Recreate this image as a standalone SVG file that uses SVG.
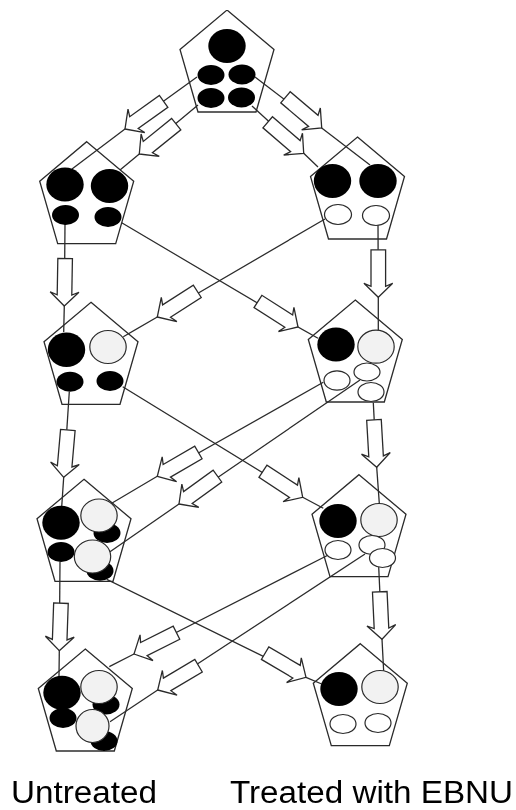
<svg xmlns="http://www.w3.org/2000/svg" width="516" height="810" viewBox="0 0 516 810">
<style>
.p{fill:none;stroke:#2b2b2b;stroke-width:1.3;stroke-linejoin:miter}
.l{fill:none;stroke:#2b2b2b;stroke-width:1.3}
.a{fill:#fff;stroke:#2b2b2b;stroke-width:1.3;stroke-linejoin:miter}
.k{fill:#000}
.g{fill:#f2f2f2;stroke:#2b2b2b;stroke-width:1.2}
.w{fill:#fff;stroke:#2b2b2b;stroke-width:1.2}
text{font-family:"Liberation Sans",Arial,sans-serif;font-size:31px;fill:#000}
</style>
<defs>
<filter id="soft" x="0" y="0" width="1" height="1"><feGaussianBlur stdDeviation="0.4"/></filter>
<polygon id="arrow" class="a" points="0,0 -14,-14.400 -11,-7.300 -47.500,-7.300 -47.500,7.300 -11,7.300 -14,14.400"/>
<polygon id="pent" class="p" points="0,0 47,39.500 29,102 -29,102 -47,39.500"/>
</defs>
<rect width="516" height="810" fill="#fff"/>
<g filter="url(#soft)">
<g id="connectors">
<polyline class="l" points="197,77 125,129 72,169"/>
<polyline class="l" points="198,105 139.300,154 120,170"/>
<polyline class="l" points="255,77 321.700,128 370,165"/>
<polyline class="l" points="252,106 303.700,153.300 318,167"/>
<polyline class="l" points="65,224 64.300,306 63.700,332"/>
<polyline class="l" points="378,224 378.300,297.300 378.300,330"/>
<polyline class="l" points="325,219 157.300,317 123.300,336.700"/>
<polyline class="l" points="121.700,222.700 298,327 318,338.300"/>
<polyline class="l" points="69.300,391.700 63.700,477.300 61.700,506.700"/>
<polyline class="l" points="373.300,402.700 376.700,467.300 379.300,503.300"/>
<polyline class="l" points="323.300,382.300 157.300,476.300 110,504.300"/>
<polyline class="l" points="360,380 179,504 110,551.700"/>
<polyline class="l" points="122.700,386.700 302.700,497.300 323.300,508.300"/>
<polyline class="l" points="60,561.700 59.300,650.700 59,676.700"/>
<polyline class="l" points="378.700,566.700 382,639.300 383.700,671.700"/>
<polyline class="l" points="328.300,555 134,654 109.300,666.700"/>
<polyline class="l" points="365,554 157.700,690 110,721.700"/>
<polyline class="l" points="106.700,579.300 306,677.300 321.700,684"/>
<use href="#arrow" transform="translate(125 129) rotate(144.400)"/>
<use href="#arrow" transform="translate(139.300 154) rotate(141)"/>
<use href="#arrow" transform="translate(321.700 128) rotate(40.300)"/>
<use href="#arrow" transform="translate(303.700 153.300) rotate(40.700)"/>
<use href="#arrow" transform="translate(64.300 306) rotate(91)"/>
<use href="#arrow" transform="translate(378.300 297.300) rotate(90)"/>
<use href="#arrow" transform="translate(157.300 317) rotate(147.300)"/>
<use href="#arrow" transform="translate(298 327) rotate(32.500)"/>
<use href="#arrow" transform="translate(63.700 477.300) rotate(95)"/>
<use href="#arrow" transform="translate(376.700 467.300) rotate(86.700)"/>
<use href="#arrow" transform="translate(157.300 476.300) rotate(149.900)"/>
<use href="#arrow" transform="translate(179 504) rotate(144)"/>
<use href="#arrow" transform="translate(302.700 497.300) rotate(33.200)"/>
<use href="#arrow" transform="translate(59.300 650.700) rotate(92)"/>
<use href="#arrow" transform="translate(382 639.300) rotate(87.300)"/>
<use href="#arrow" transform="translate(134 654) rotate(153.400)"/>
<use href="#arrow" transform="translate(157.700 690) rotate(149.300)"/>
<use href="#arrow" transform="translate(306 677.300) rotate(30.600)"/>
</g>
<g id="node-top">
<use href="#pent" x="227" y="10"/>
<ellipse class="k" cx="227" cy="46" rx="18.700" ry="17"/>
<ellipse class="k" cx="211" cy="75" rx="13.500" ry="10"/>
<ellipse class="k" cx="242" cy="74.500" rx="13.500" ry="10"/>
<ellipse class="k" cx="211" cy="98" rx="13.500" ry="10"/>
<ellipse class="k" cx="241.500" cy="97.500" rx="13.500" ry="10"/>
</g>
<g id="node-left-1">
<use href="#pent" x="86.700" y="141.700"/>
<ellipse class="k" cx="65" cy="184.500" rx="18.700" ry="17"/>
<ellipse class="k" cx="109.500" cy="186" rx="18.700" ry="17"/>
<ellipse class="k" cx="65.500" cy="215" rx="13.500" ry="10"/>
<ellipse class="k" cx="108" cy="217" rx="13.500" ry="10"/>
</g>
<g id="node-right-1">
<use href="#pent" x="357.500" y="137"/>
<ellipse class="k" cx="332.500" cy="181" rx="18.700" ry="17"/>
<ellipse class="k" cx="378" cy="181" rx="18.700" ry="17"/>
<ellipse class="w" cx="338" cy="214.500" rx="13.500" ry="10"/>
<ellipse class="w" cx="376" cy="215.500" rx="13.500" ry="10"/>
</g>
<g id="node-left-2">
<use href="#pent" x="91" y="302.300"/>
<ellipse class="k" cx="66.500" cy="349.700" rx="18.700" ry="17.300"/>
<ellipse class="g" cx="108" cy="347" rx="18.200" ry="16.500"/>
<ellipse class="k" cx="70" cy="381.700" rx="13.500" ry="10"/>
<ellipse class="k" cx="110" cy="381" rx="13.500" ry="10"/>
</g>
<g id="node-right-2">
<use href="#pent" x="355.300" y="300"/>
<ellipse class="k" cx="336" cy="344.500" rx="18.700" ry="17"/>
<ellipse class="g" cx="376" cy="346.700" rx="18.200" ry="16.500"/>
<ellipse class="w" cx="337" cy="380.500" rx="13" ry="9.700"/>
<ellipse class="w" cx="367" cy="372" rx="13" ry="9"/>
<ellipse class="w" cx="371" cy="392" rx="13" ry="9.500"/>
</g>
<g id="node-left-3">
<use href="#pent" x="84" y="479.300"/>
<ellipse class="k" cx="107" cy="533" rx="13.500" ry="10"/>
<ellipse class="k" cx="100" cy="570.700" rx="13.500" ry="10"/>
<ellipse class="k" cx="61" cy="522.700" rx="18.700" ry="17"/>
<ellipse class="g" cx="99" cy="515.500" rx="18.200" ry="16.500"/>
<ellipse class="k" cx="61" cy="552" rx="13.500" ry="10"/>
<ellipse class="g" cx="92.500" cy="556.500" rx="18.200" ry="16.500"/>
</g>
<g id="node-right-3">
<use href="#pent" x="359" y="474.700"/>
<ellipse class="k" cx="338" cy="521" rx="18.700" ry="17"/>
<ellipse class="g" cx="379" cy="520" rx="18.200" ry="16.500"/>
<ellipse class="w" cx="338" cy="550" rx="13" ry="9.500"/>
<ellipse class="w" cx="372" cy="545" rx="13" ry="9.500"/>
<ellipse class="w" cx="382.500" cy="558" rx="13" ry="9.500"/>
</g>
<g id="node-left-4">
<use href="#pent" x="85.300" y="649"/>
<ellipse class="k" cx="106" cy="704.500" rx="13.500" ry="10"/>
<ellipse class="k" cx="104" cy="741" rx="13.500" ry="10"/>
<ellipse class="k" cx="62" cy="692.700" rx="18.700" ry="17"/>
<ellipse class="g" cx="99" cy="687" rx="18.200" ry="16.500"/>
<ellipse class="k" cx="63" cy="718" rx="13.500" ry="10"/>
<ellipse class="g" cx="92.500" cy="726" rx="16.500" ry="16.500"/>
</g>
<g id="node-right-4">
<use href="#pent" x="360.300" y="643.700"/>
<ellipse class="k" cx="339" cy="689" rx="18.700" ry="17"/>
<ellipse class="g" cx="380" cy="687" rx="18.200" ry="16.500"/>
<ellipse class="w" cx="343" cy="724" rx="13" ry="9.500"/>
<ellipse class="w" cx="378" cy="723" rx="13" ry="9.500"/>
</g>
<text x="11" y="803" textLength="146" lengthAdjust="spacingAndGlyphs">Untreated</text>
<text x="230" y="803" textLength="283" lengthAdjust="spacingAndGlyphs">Treated with EBNU</text>
</g>
</svg>
